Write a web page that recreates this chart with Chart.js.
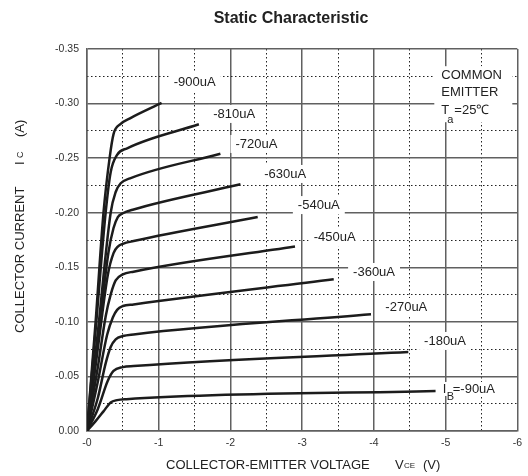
<!DOCTYPE html>
<html>
<head>
<meta charset="utf-8">
<script src="https://cdn.jsdelivr.net/npm/chart.js@4/dist/chart.umd.min.js"></script>
<style>
  html, body { margin: 0; padding: 0; background: #fff; }
  #wrap { width: 528px; height: 476px; }
</style>
</head>
<body>
<div id="wrap"><canvas id="grafico"></canvas></div>
<script>
// base current labels, one per curve
var baseCurrents = ["-900uA", "-810uA", "-720uA", "-630uA", "-540uA", "-450uA", "-360uA", "-270uA", "-180uA", "-90uA"];

// VCE (V) and IC (A) for every curve
var vce900 = [0, -0.12, -0.23, -0.315, -0.37, -0.47, -0.6, -1.04];
var ic900  = [0, -0.1, -0.2, -0.25, -0.272, -0.2814, -0.2865, -0.3006];

var vce810 = [0, -0.13, -0.26, -0.33, -0.42, -0.56, -1.56];
var ic810  = [0, -0.1, -0.2, -0.237, -0.253, -0.259, -0.281];

var vce720 = [0, -0.15, -0.33, -0.4, -0.47, -0.6, -1.86];
var ic720  = [0, -0.09, -0.2, -0.219, -0.227, -0.2315, -0.254];

var vce630 = [0, -0.15, -0.3, -0.37, -0.43, -0.5, -0.65, -2.14];
var ic630  = [0, -0.082, -0.164, -0.186, -0.196, -0.1995, -0.203, -0.226];

var vce540 = [0, -0.15, -0.29, -0.37, -0.43, -0.5, -0.65, -2.38];
var ic540  = [0, -0.075, -0.143, -0.163, -0.169, -0.1715, -0.174, -0.196];

var vce450 = [0, -0.15, -0.26, -0.33, -0.4, -0.5, -0.65, -2.9];
var ic450  = [0, -0.058, -0.105, -0.125, -0.138, -0.1435, -0.146, -0.169];

var vce360 = [0, -0.15, -0.28, -0.36, -0.42, -0.5, -0.65, -3.44];
var ic360  = [0, -0.045, -0.088, -0.104, -0.111, -0.1145, -0.116, -0.139];

var vce270 = [0, -0.15, -0.26, -0.33, -0.4, -0.5, -0.65, -3.96];
var ic270  = [0, -0.03, -0.062, -0.077, -0.084, -0.087, -0.0885, -0.107];

var vce180 = [0, -0.15, -0.29, -0.37, -0.5, -0.65, -4.48];
var ic180  = [0, -0.02, -0.046, -0.055, -0.0585, -0.0595, -0.0724];

var vce90 = [0, -0.12, -0.23, -0.33, -0.42, -0.55, -4.86];
var ic90  = [0, -0.009, -0.018, -0.0262, -0.0283, -0.0292, -0.0367];

var curvasV = [vce900, vce810, vce720, vce630, vce540, vce450, vce360, vce270, vce180, vce90];
var curvasI = [ic900, ic810, ic720, ic630, ic540, ic450, ic360, ic270, ic180, ic90];

var fonte = "'Liberation Sans', Arial, sans-serif";

var datasets = [];
for (var i = 0; i < curvasV.length; i++) {
    var pontos = [];
    for (var j = 0; j < curvasV[i].length; j++) {
        pontos.push({ x: curvasV[i][j], y: curvasI[i][j] });
    }
    datasets.push({
        label: baseCurrents[i],
        data: pontos,
        borderColor: "#1c1c1c",
        borderWidth: 2.5,
        pointRadius: 0,
        fill: false,
        cubicInterpolationMode: "monotone"
    });
}

function ehInteiro(v, passo) {
    var r = v / passo;
    return Math.abs(r - Math.round(r)) < 1e-6;
}

// where each curve label sits, in axis units (left edge, middle)
var posRotulos = [[-1.21, -0.3198], [-1.76, -0.2905], [-2.07, -0.263], [-2.47, -0.2355], [-2.94, -0.207],
                  [-3.16, -0.177], [-3.71, -0.1457], [-4.16, -0.1136], [-4.70, -0.0825], [-4.96, -0.0385]];

var textos = {
    id: "textos",
    beforeDatasetsDraw: function (chart) {
        var ctx = chart.ctx;
        var sx = chart.scales.x, sy = chart.scales.y;
        ctx.save();
        ctx.textBaseline = "middle";
        ctx.textAlign = "left";
        ctx.font = "13px " + fonte;
        for (var k = 0; k < posRotulos.length; k++) {
            var px = sx.getPixelForValue(posRotulos[k][0]);
            var py = sy.getPixelForValue(posRotulos[k][1]);
            var txt = k === 9 ? "I  =-90uA" : baseCurrents[k];
            var w = ctx.measureText(txt).width;
            ctx.fillStyle = "#fff";
            if (k === 9) {
                ctx.fillRect(px - 3, py - 7, w + 5, 14);
            } else {
                ctx.fillRect(px - 5, py - 9, w + 10, 18);
            }
            ctx.fillStyle = "#222";
            if (k === 9) {
                ctx.fillText("I", px, py);
                ctx.font = "11px " + fonte;
                ctx.fillText("B", px + 4, py + 8);
                ctx.font = "13px " + fonte;
                ctx.fillText("=-90uA", px + 10, py);
            } else {
                ctx.fillText(txt, px, py);
            }
        }
        // COMMON EMITTER block
        var bx = sx.getPixelForValue(-4.94), by = sy.getPixelForValue(-0.326);
        ctx.fillStyle = "#fff";
        ctx.fillRect(bx - 7, by - 9, 78, 56);
        ctx.fillStyle = "#222";
        ctx.fillText("COMMON", bx, by);
        ctx.fillText("EMITTER", bx, by + 17);
        ctx.fillText("T", bx, by + 35);
        ctx.font = "11px " + fonte;
        ctx.fillText("a", bx + 6, by + 45);
        ctx.font = "13px " + fonte;
        ctx.fillText("=25\u2103", bx + 13, by + 35);
        ctx.restore();
    },
    afterDraw: function (chart) {
        var ctx = chart.ctx;
        ctx.save();
        ctx.fillStyle = "#222";
        ctx.textBaseline = "middle";
        ctx.textAlign = "center";
        ctx.font = "bold 16px " + fonte;
        ctx.fillText("Static Characteristic", 291, 19);

        // x axis title
        ctx.textAlign = "left";
        ctx.font = "13px " + fonte;
        ctx.fillText("COLLECTOR-EMITTER VOLTAGE", 166, 465);
        ctx.fillText("V", 395, 465);
        ctx.fillText("(V)", 423, 465);
        ctx.font = "8px " + fonte;
        ctx.fillText("CE", 404, 466);

        // y axis title
        ctx.translate(20, 0);
        ctx.rotate(-Math.PI / 2);
        ctx.font = "13px " + fonte;
        ctx.fillText("COLLECTOR CURRENT", -333, 0);
        ctx.fillText("I", -165, 0);
        ctx.fillText("(A)", -137, 0);
        ctx.font = "9px " + fonte;
        ctx.fillText("C", -158, 1);
        ctx.restore();
    }
};

var corGrade = "#606060";
var fonteTick = { family: fonte, size: 10.5 };

var ref = document.querySelector("#grafico").getContext("2d");

var grafico = new Chart(ref, {
    type: "line",
    data: { datasets: datasets },
    plugins: [textos],
    options: {
        responsive: true,
        maintainAspectRatio: false,
        animation: false,
        layout: { padding: { top: 49, right: 4, left: 0, bottom: 0 } },
        plugins: {
            legend: { display: false },
            tooltip: { enabled: false },
            title: { display: false }
        },
        scales: {
            x: {
                type: "linear", min: -6, max: 0, reverse: true, position: "bottom",
                ticks: {
                    stepSize: 1, padding: 6, color: "#333", font: fonteTick,
                    callback: function (v) { return "-" + Math.abs(Math.round(v)); }
                },
                grid: { color: corGrade, lineWidth: 1.5, drawTicks: false },
                border: { color: corGrade, width: 1.5 },
                afterFit: function (s) { s.height = 45; }
            },
            xMenor: {
                type: "linear", min: -6, max: 0, reverse: true, position: "bottom",
                ticks: { display: false, stepSize: 0.5 },
                grid: {
                    drawTicks: false, lineWidth: 1,
                    color: function (c) { return ehInteiro(c.tick.value, 1) ? "rgba(0,0,0,0)" : "#222"; }
                },
                border: { display: false, dash: [1.5, 2.5] },
                afterFit: function (s) { s.height = 0; }
            },
            y: {
                type: "linear", min: -0.35, max: 0, reverse: true, position: "left",
                ticks: {
                    stepSize: 0.05, padding: 8, color: "#333", font: fonteTick,
                    callback: function (v) { return Math.abs(v) < 1e-9 ? "0.00" : v.toFixed(2); }
                },
                grid: { color: corGrade, lineWidth: 1.5, drawTicks: false },
                border: { color: corGrade, width: 1.5 },
                afterFit: function (s) { s.width = 87; }
            },
            yMenor: {
                type: "linear", min: -0.35, max: 0, reverse: true, position: "left",
                ticks: { display: false, stepSize: 0.025 },
                grid: {
                    drawTicks: false, lineWidth: 1,
                    color: function (c) { return ehInteiro(c.tick.value, 0.05) ? "rgba(0,0,0,0)" : "#222"; }
                },
                border: { display: false, dash: [1.5, 2.5] },
                afterFit: function (s) { s.width = 0; }
            }
        }
    }
});
</script>
</body>
</html>
